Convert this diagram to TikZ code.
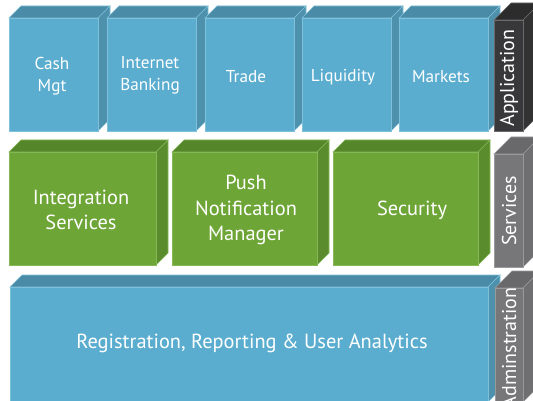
\documentclass[tikz,border=0pt]{standalone}
\usepackage{fontspec}
\setmainfont{PT Sans}
\usepackage{tikz}

\definecolor{bluefront}{HTML}{5BADCF}
\definecolor{bluetop}{HTML}{4A8CA7}
\definecolor{blueside}{HTML}{4D91AC}
\definecolor{blueedge}{HTML}{7FC0DA}
\definecolor{greenfront}{HTML}{6DA536}
\definecolor{greentop}{HTML}{55862A}
\definecolor{greenside}{HTML}{5A8C2D}
\definecolor{greenedge}{HTML}{86B857}
\definecolor{darkfront}{HTML}{38383A}
\definecolor{darktop}{HTML}{2C2C2D}
\definecolor{darkside}{HTML}{323233}
\definecolor{darkedge}{HTML}{6A6A6C}
\definecolor{grayfront}{HTML}{77777A}
\definecolor{graytop}{HTML}{69696C}
\definecolor{grayside}{HTML}{6F6F72}
\definecolor{grayedge}{HTML}{9A9A9D}

\tikzstyle{small} = [text=white, align=center, font=\fontsize{8.6}{11}\selectfont]
\tikzstyle{big} = [text=white, align=center, font=\fontsize{10.2}{12.8}\selectfont]
\tikzstyle{side} = [text=white, rotate=90, font=\fontsize{10}{12}\selectfont]

% front top-left, front bottom-right, depth, colour family
\newcommand{\slab}[6]{%
  \filldraw[fill=#6top, draw=#6edge, line width=.3pt] (#1,#2) -- (#1+#5,#2-#5) -- (#3+#5,#2-#5) -- (#3,#2) -- cycle;
  \filldraw[fill=#6side, draw=#6edge, line width=.3pt] (#3,#2) -- (#3+#5,#2-#5) -- (#3+#5,#4-#5) -- (#3,#4) -- cycle;
  \filldraw[fill=#6front, draw=#6edge, line width=.3pt] (#1,#2) rectangle (#3,#4);
}

\begin{document}
\begin{tikzpicture}[x=0.5pt, y=-0.5pt]
	\clip (0, 0) rectangle (533, 400);
	% application row
	\slab{9}{18}{98}{131}{12}{blue}
	\slab{107}{18}{196}{131}{12}{blue}
	\slab{205}{18}{294}{131}{12}{blue}
	\slab{302}{18}{391}{131}{12}{blue}
	\slab{399}{18}{488}{131}{12}{blue}
	\slab{494}{20}{523}{131}{17}{dark}
	\node[small] (cash) at (52, 76) {Cash\\Mgt};
	\node[small] (banking) at (150, 75) {Internet\\Banking};
	\node[small] (trade) at (246, 77) {Trade};
	\node[small] (liquidity) at (343, 77) {Liquidity};
	\node[small] (markets) at (441, 77) {Markets};
	\node[side] (application) at (509, 78) {Application};
	% services row
	\slab{9}{152}{156}{265}{12}{green}
	\slab{172}{152}{317}{265}{12}{green}
	\slab{333}{152}{478}{265}{12}{green}
	\slab{494}{154}{523}{267}{17}{gray}
	\node[big] (integration) at (81, 210) {Integration\\Services};
	\node[big] (push) at (246, 210) {Push\\Notification\\Manager};
	\node[big] (security) at (412, 210) {Security};
	\node[side] (services) at (509, 211) {Services};
	% administration row
	\slab{10}{287}{488}{402}{12}{blue}
	\slab{495}{288}{523}{402}{17}{gray}
	\node[big] (registration) at (252, 343) {Registration, Reporting \& User Analytics};
	\node[side] (admin) at (509, 348) {Adminstration};
\end{tikzpicture}
\end{document}
